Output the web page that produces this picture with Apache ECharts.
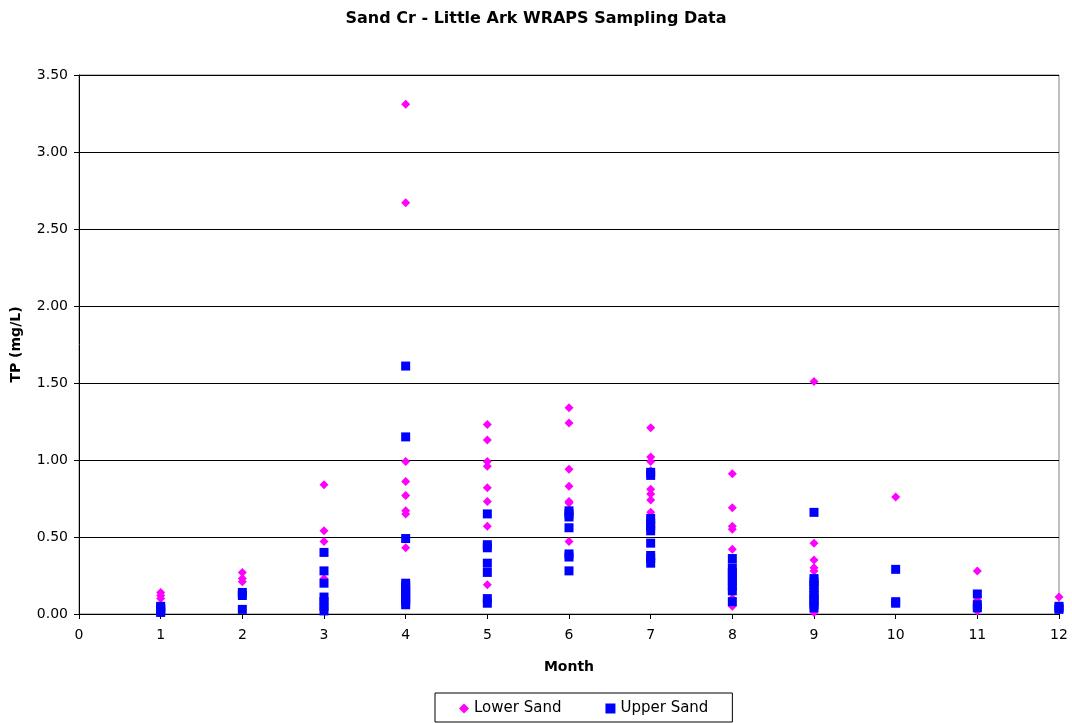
<!DOCTYPE html>
<html>
<head>
<meta charset="utf-8">
<script src="https://cdn.jsdelivr.net/npm/echarts@6/dist/echarts.min.js"></script>
<style>
  html, body { margin: 0; padding: 0; background: #fff; }
  #chart { width: 1072px; height: 723px; }
</style>
</head>
<body>
<div id="chart"></div>
<script>
// TP samples as [month, mg/L]
const lowerSand = [
  [1, 0.14], [1, 0.12], [1, 0.10],
  [2, 0.27], [2, 0.23], [2, 0.21],
  [3, 0.84], [3, 0.54], [3, 0.47], [3, 0.23],
  [4, 3.31], [4, 2.67], [4, 0.99], [4, 0.86], [4, 0.77], [4, 0.67], [4, 0.65], [4, 0.43],
  [5, 1.23], [5, 1.13], [5, 0.99], [5, 0.96], [5, 0.82], [5, 0.73], [5, 0.57], [5, 0.19],
  [6, 1.34], [6, 1.24], [6, 0.94], [6, 0.83], [6, 0.73], [6, 0.72], [6, 0.47],
  [7, 1.21], [7, 1.02], [7, 0.99], [7, 0.93], [7, 0.81], [7, 0.78], [7, 0.74], [7, 0.66],
  [8, 0.91], [8, 0.69], [8, 0.57], [8, 0.55], [8, 0.42], [8, 0.10], [8, 0.05],
  [9, 1.51], [9, 0.46], [9, 0.35], [9, 0.30], [9, 0.28], [9, 0.01],
  [10, 0.76],
  [11, 0.28], [11, 0.09], [11, 0.02],
  [12, 0.11]
];

const upperSand = [
  [1, 0.05], [1, 0.04], [1, 0.03], [1, 0.02], [1, 0.01],
  [2, 0.14], [2, 0.12], [2, 0.03],
  [3, 0.40], [3, 0.28], [3, 0.20], [3, 0.11], [3, 0.08], [3, 0.05], [3, 0.02],
  [4, 1.61], [4, 1.15], [4, 0.49], [4, 0.20], [4, 0.18], [4, 0.16], [4, 0.14], [4, 0.12], [4, 0.10], [4, 0.08], [4, 0.06],
  [5, 0.65], [5, 0.45], [5, 0.43], [5, 0.33], [5, 0.27], [5, 0.10], [5, 0.07],
  [6, 0.67], [6, 0.65], [6, 0.63], [6, 0.56], [6, 0.39], [6, 0.37], [6, 0.28],
  [7, 0.92], [7, 0.90], [7, 0.62], [7, 0.59], [7, 0.57], [7, 0.54], [7, 0.46], [7, 0.38], [7, 0.36], [7, 0.33],
  [8, 0.36], [8, 0.30], [8, 0.27], [8, 0.24], [8, 0.21], [8, 0.18], [8, 0.15], [8, 0.08],
  [9, 0.66], [9, 0.23], [9, 0.21], [9, 0.19], [9, 0.17], [9, 0.14], [9, 0.12], [9, 0.10], [9, 0.08], [9, 0.06], [9, 0.04],
  [10, 0.29], [10, 0.08], [10, 0.07],
  [11, 0.13], [11, 0.06], [11, 0.04],
  [12, 0.05], [12, 0.04], [12, 0.03]
];

const monthTicks = { min: 0, max: 12, interval: 1 };
const tpTicks = { min: 0, max: 3.5, interval: 0.5 };

const FONT = 'DejaVu Sans, Liberation Sans, Arial, sans-serif';

const chart = echarts.init(document.getElementById('chart'), null, { renderer: 'canvas' });

chart.setOption({
  backgroundColor: '#ffffff',
  animation: false,
  title: {
    text: 'Sand Cr - Little Ark WRAPS Sampling Data',
    left: 'center',
    top: 6,
    textStyle: { fontFamily: FONT, fontSize: 16, fontWeight: 'bold', color: '#000' }
  },
  grid: {
    left: 79, right: 13, top: 75, bottom: 109,
    show: true, borderColor: '#808080', borderWidth: 1, backgroundColor: '#ffffff'
  },
  legend: {
    bottom: 1,
    left: 435,
    itemWidth: 10,
    itemHeight: 10,
    itemGap: 44,
    padding: [8, 24, 6, 24],
    borderColor: '#000',
    borderWidth: 1,
    borderRadius: 0,
    textStyle: { fontFamily: FONT, fontSize: 15, color: '#000' },
    data: [
      { name: 'Lower Sand', icon: 'diamond' },
      { name: 'Upper Sand', icon: 'rect' }
    ]
  },
  xAxis: {
    type: 'value',
    min: monthTicks.min,
    max: monthTicks.max,
    interval: monthTicks.interval,
    name: 'Month',
    nameLocation: 'middle',
    nameGap: 46,
    nameTextStyle: { fontFamily: FONT, fontSize: 14, fontWeight: 'bold', color: '#000' },
    axisLine: { onZero: false, lineStyle: { color: '#000', width: 1 } },
    axisTick: { show: true, length: 5, lineStyle: { color: '#000' } },
    axisLabel: { fontFamily: FONT, fontSize: 14, color: '#000', margin: 14 },
    splitLine: { show: false }
  },
  yAxis: {
    type: 'value',
    min: tpTicks.min,
    max: tpTicks.max,
    interval: tpTicks.interval,
    name: 'TP (mg/L)',
    nameLocation: 'middle',
    nameGap: 56,
    nameTextStyle: { fontFamily: FONT, fontSize: 14, fontWeight: 'bold', color: '#000' },
    axisLine: { show: true, lineStyle: { color: '#000', width: 1 } },
    axisTick: { show: true, length: 5, lineStyle: { color: '#000' } },
    axisLabel: {
      fontFamily: FONT, fontSize: 14, color: '#000', margin: 11,
      formatter: v => v.toFixed(2)
    },
    splitLine: { show: true, lineStyle: { color: '#000', width: 1 } }
  },
  series: [
    {
      name: 'Lower Sand',
      type: 'scatter',
      symbol: 'diamond',
      symbolSize: 9,
      clip: false,
      itemStyle: { color: '#ff00ff', opacity: 1 },
      data: lowerSand
    },
    {
      name: 'Upper Sand',
      type: 'scatter',
      symbol: 'rect',
      symbolSize: 9,
      clip: false,
      itemStyle: { color: '#0000ff', opacity: 1 },
      data: upperSand
    }
  ]
});
</script>
</body>
</html>
